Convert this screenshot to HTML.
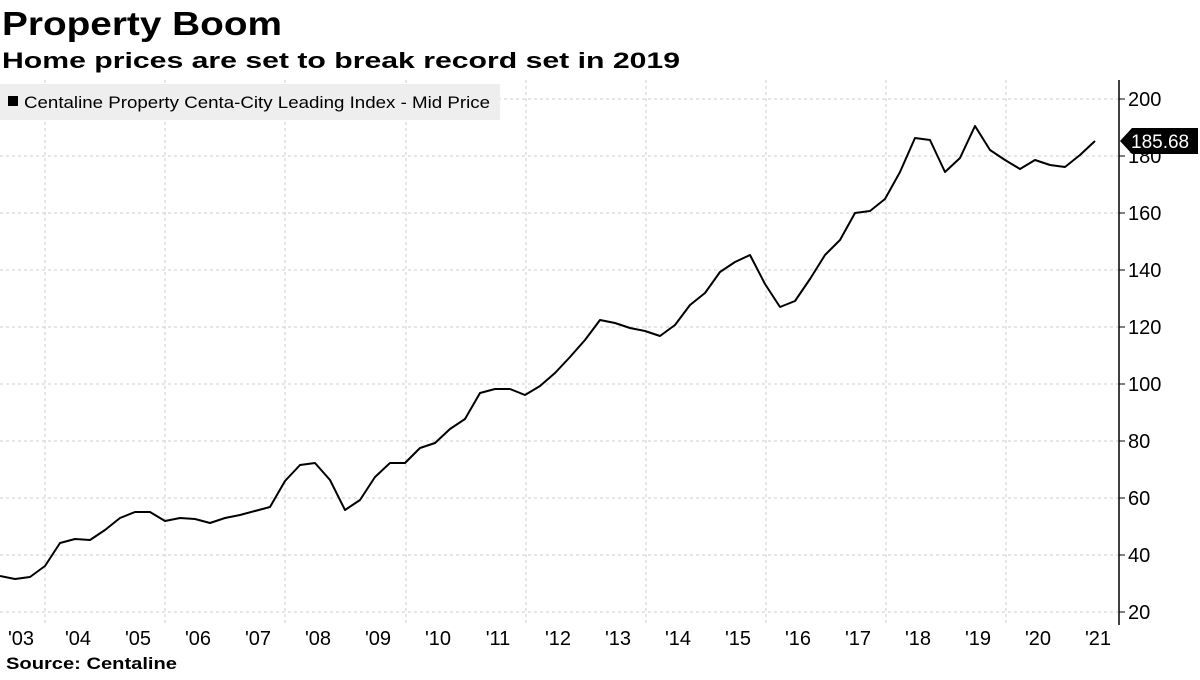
<!DOCTYPE html>
<html><head><style>
body{margin:0;background:#fff;width:1200px;height:675px;overflow:hidden;font-family:"Liberation Sans",sans-serif}
</style></head><body>
<svg width="1200" height="675" xmlns="http://www.w3.org/2000/svg" font-family="Liberation Sans, sans-serif">
<text x="2" y="35" font-size="33" font-weight="bold" textLength="280" lengthAdjust="spacingAndGlyphs">Property Boom</text>
<text x="2" y="68" font-size="22" font-weight="bold" textLength="678" lengthAdjust="spacingAndGlyphs">Home prices are set to break record set in 2019</text>
<g stroke="#ccc" stroke-dasharray="3,3" stroke-width="1">
<line x1="0" x2="1118" y1="99" y2="99"/><line x1="0" x2="1118" y1="156" y2="156"/><line x1="0" x2="1118" y1="213" y2="213"/><line x1="0" x2="1118" y1="270" y2="270"/><line x1="0" x2="1118" y1="327" y2="327"/><line x1="0" x2="1118" y1="384" y2="384"/><line x1="0" x2="1118" y1="441" y2="441"/><line x1="0" x2="1118" y1="498" y2="498"/><line x1="0" x2="1118" y1="555" y2="555"/><line x1="0" x2="1118" y1="612" y2="612"/>
<line x1="45" x2="45" y1="80" y2="624"/><line x1="165" x2="165" y1="80" y2="624"/><line x1="285" x2="285" y1="80" y2="624"/><line x1="406" x2="406" y1="80" y2="624"/><line x1="526" x2="526" y1="80" y2="624"/><line x1="646" x2="646" y1="80" y2="624"/><line x1="766" x2="766" y1="80" y2="624"/><line x1="886" x2="886" y1="80" y2="624"/><line x1="1006" x2="1006" y1="80" y2="624"/>
</g>
<rect x="0" y="84" width="500" height="36" fill="#eee"/>
<rect x="8" y="96" width="10" height="10" fill="#000"/>
<text x="24" y="108" font-size="17" textLength="466" lengthAdjust="spacingAndGlyphs">Centaline Property Centa-City Leading Index - Mid Price</text>
<line x1="1119" x2="1119" y1="80" y2="625" stroke="#000" stroke-width="1.5"/>
<g stroke="#000"><line x1="1119" x2="1125" y1="99" y2="99"/><line x1="1119" x2="1125" y1="156" y2="156"/><line x1="1119" x2="1125" y1="213" y2="213"/><line x1="1119" x2="1125" y1="270" y2="270"/><line x1="1119" x2="1125" y1="327" y2="327"/><line x1="1119" x2="1125" y1="384" y2="384"/><line x1="1119" x2="1125" y1="441" y2="441"/><line x1="1119" x2="1125" y1="498" y2="498"/><line x1="1119" x2="1125" y1="555" y2="555"/><line x1="1119" x2="1125" y1="612" y2="612"/></g>
<g font-size="20" fill="#000">
<text x="1128" y="106">200</text><text x="1128" y="163">180</text><text x="1128" y="220">160</text><text x="1128" y="277">140</text><text x="1128" y="334">120</text><text x="1128" y="391">100</text><text x="1128" y="448">80</text><text x="1128" y="505">60</text><text x="1128" y="562">40</text><text x="1128" y="619">20</text>
</g>
<g font-size="20" text-anchor="middle">
<text x="21" y="645">'03</text><text x="78" y="645">'04</text><text x="138" y="645">'05</text><text x="198" y="645">'06</text><text x="258" y="645">'07</text><text x="318" y="645">'08</text><text x="378" y="645">'09</text><text x="438" y="645">'10</text><text x="498" y="645">'11</text><text x="558" y="645">'12</text><text x="618" y="645">'13</text><text x="678" y="645">'14</text><text x="738" y="645">'15</text><text x="798" y="645">'16</text><text x="858" y="645">'17</text><text x="918" y="645">'18</text><text x="978" y="645">'19</text><text x="1038" y="645">'20</text><text x="1098" y="645">'21</text>
</g>
<text x="6" y="669" font-size="17" font-weight="bold" textLength="171" lengthAdjust="spacingAndGlyphs">Source:  Centaline</text>
<polyline fill="none" stroke="#000" stroke-width="2" stroke-linejoin="round" points="0,576 15,579 30,577 45,566 60,543 75,539 90,540 105,530 120,518 135,512 150,512 165,521 180,518 195,519 210,523 225,518 240,515 255,511 270,507 285,481 300,465 315,463 330,480 345,510 360,500 375,477 390,463 405,463 420,448 435,443 450,429 465,419 480,393 495,389 510,389 525,395 540,386 555,373 570,357 585,340 600,320 615,323 630,328 645,331 660,336 675,325 690,305 705,293 720,272 735,262 750,255 765,284 780,307 795,301 810,279 825,255 840,240 855,213 870,211 885,199 900,172 915,138 930,140 945,172 960,158 975,126 990,150 1005,160 1020,169 1035,160 1050,165 1065,167 1080,155 1095,141"/>
<polygon points="1120,141 1132,128 1198,128 1198,154 1132,154" fill="#000"/>
<text x="1131" y="148" font-size="19" fill="#fff">185.68</text>
</svg>
</body></html>
